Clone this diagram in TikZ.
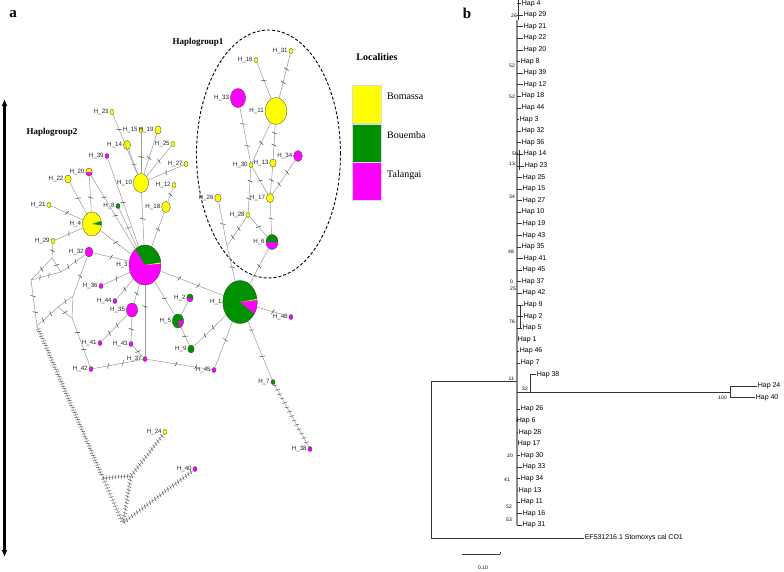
\documentclass[tikz,border=0pt]{standalone}
\usepackage{fontspec}
\setmainfont{Liberation Serif}
\setsansfont{Liberation Sans}
\usetikzlibrary{positioning,shapes.geometric,decorations.markings,arrows.meta}

\definecolor{bomcol}{RGB}{255,255,0}
\definecolor{boucol}{RGB}{0,145,0}
\definecolor{talcol}{RGB}{255,0,255}

% pie slice inside a haplotype node
\newcommand\slice[3]{\fill[#1] (path picture bounding box.center) -- ++(#2:40pt) arc[start angle=#2,end angle=#3,radius=40pt] -- cycle;}
% haplotype: [slices]{number}{position}{height}{colour}
\newcommand\haplo[5][]{%
  \node[hap=#4,fill=#5,path picture={#1}] (h#2) at (#3) {};
  \node[hlab,left=0.6pt of h#2] (l#2) {H\_#2};}

\tikzset{
  hap/.style={ellipse,draw=black!75,line width=0.3pt,inner sep=0pt,
    minimum height=#1,minimum width=0.8*#1},
  hlab/.style={font=\sffamily\fontsize{6.2}{7}\selectfont,inner sep=0.4pt,text=black!85},
  link/.style={draw=black!40,line width=0.5pt},
  mut/.style={postaction={decorate,decoration={markings,mark=at position #1 with
    {\draw[black!80,line width=0.45pt] (-0.9pt,-2.5pt) -- (0.9pt,2.5pt);}}}},
  mut/.default=0.5,
  muts/.style={postaction={decorate,decoration={markings,
    mark=between positions 0.02 and 0.98 step #1 with
    {\draw[black!75,line width=0.4pt] (-0.6pt,-2.2pt) -- (0.6pt,2.2pt);}}}},
  legbox/.style={draw=black!15,line width=0.3pt,minimum width=29pt,minimum height=38pt,inner sep=0pt},
  leglab/.style={font=\fontsize{10}{12}\selectfont,anchor=west,inner sep=0pt},
  tlab/.style={font=\sffamily\fontsize{7}{8}\selectfont,anchor=west,inner sep=0.6pt},
  bs/.style={font=\sffamily\fontsize{5}{6}\selectfont,inner sep=0pt},
  br/.style={draw=black!80,line width=0.5pt},
  spine/.style={draw=black!45,line width=1.3pt},
}

\begin{document}
\begin{tikzpicture}[x=1pt,y=-1pt]
\useasboundingbox (0,0) rectangle (784,571);
\fill[white] (0,0) rectangle (784,571);

% panel a
\node[font=\bfseries\fontsize{15}{15}\selectfont] (pa) at (13,14) {a};
\node[font=\bfseries\fontsize{9}{10}\selectfont] (hg1lab) at (198,42) {Haplogroup1};
\node[font=\bfseries\fontsize{9}{10}\selectfont] (hg2lab) at (52,132) {Haplogroup2};
\coordinate (gtop) at (4.5,99);
\coordinate (gbot) at (4.5,557);
\draw[line width=2.5pt,{Latex[length=7pt,width=6pt]}-{Latex[length=7pt,width=6pt]}] (gtop) -- (gbot);
\node[draw,ellipse,dashed,line width=0.9pt,dash pattern=on 3pt off 2pt,
  minimum width=144pt,minimum height=248pt] (hg1) at (268.5,154) {};

% legend
\node[font=\bfseries\fontsize{10}{12}\selectfont] (loc) at (377,57) {Localities};
\node[legbox,fill=bomcol] (lbom) at (366.5,104.5) {};
\node[legbox,fill=boucol,below=0pt of lbom] (lbou) {};
\node[legbox,fill=talcol,below=0pt of lbou] (ltal) {};
\node[leglab] (tbom) at (387,96) {Bomassa};
\node[leglab] (tbou) at (387,135) {Bouemba};
\node[leglab] (ttal) at (387,175) {Talangai};

% haplotypes
\haplo{23}{112,112}{5pt}{bomcol}
\haplo{15}{141,130}{5pt}{bomcol}
\haplo{19}{158,130}{8pt}{bomcol}
\haplo{14}{127,145}{9pt}{bomcol}
\haplo{25}{173,144}{5pt}{bomcol}
\haplo{39}{107,156}{5pt}{talcol}
\haplo[\slice{bomcol}{0}{180}]{20}{89,172}{8pt}{talcol}
\haplo{22}{68,179}{8pt}{bomcol}
\haplo{27}{186,164}{5pt}{bomcol}
\haplo{10}{141,183}{19pt}{bomcol}
\haplo{12}{174,185}{5pt}{bomcol}
\haplo{8}{118,206}{5pt}{boucol}
\haplo{18}{166,207}{11pt}{bomcol}
\haplo{21}{49,205}{5pt}{bomcol}
\haplo[\slice{boucol}{-8}{18}]{4}{92,224}{24pt}{bomcol}
\haplo{29}{53,241}{5pt}{bomcol}
\haplo{32}{89,252}{10pt}{talcol}
\haplo[\slice{boucol}{9}{121}\slice{bomcol}{5}{9}]{3}{145,265}{40pt}{talcol}
\haplo{36}{101,286}{5pt}{talcol}
\haplo{44}{115,301}{5pt}{talcol}
\haplo{35}{132,310}{14pt}{talcol}
\haplo[\slice{boucol}{0}{180}]{2}{190,298}{8pt}{talcol}
\haplo[\slice{talcol}{-75}{5}]{5}{178,321}{14pt}{boucol}
\haplo{9}{191,349}{8pt}{boucol}
\haplo{41}{100,343}{5pt}{talcol}
\haplo{43}{131,344}{5pt}{talcol}
\haplo{37}{145,359}{5pt}{talcol}
\haplo{42}{91,369}{5pt}{talcol}
\haplo[\slice{talcol}{-39}{7}\slice{bomcol}{7}{10}]{1}{240,302}{43pt}{boucol}
\haplo{48}{291,317}{5pt}{talcol}
\haplo{45}{214,370}{5pt}{talcol}
\haplo{7}{273,382}{5pt}{boucol}
\haplo{24}{165,432}{5pt}{bomcol}
\haplo{40}{195,469}{5pt}{talcol}
\haplo{38}{310,449}{5pt}{talcol}
\haplo{16}{256,60}{5pt}{bomcol}
\haplo{31}{291,51}{5pt}{bomcol}
\haplo{33}{238,98}{19pt}{talcol}
\haplo{11}{276,111}{27pt}{bomcol}
\haplo{30}{251,165}{5pt}{bomcol}
\haplo{13}{273,163}{8pt}{bomcol}
\haplo{34}{298,156}{11pt}{talcol}
\haplo{26}{218,198}{8pt}{bomcol}
\haplo{17}{270,198}{9pt}{bomcol}
\haplo{28}{248,215}{5pt}{bomcol}
\haplo[\slice{boucol}{0}{180}]{6}{272,242}{15pt}{talcol}

% median vectors
\coordinate (j1) at (227,246);
\coordinate (w1) at (52,258);
\coordinate (w2) at (31,280);
\coordinate (w3) at (61,272);
\coordinate (w4) at (37,326);
\coordinate (w5) at (58,307);
\coordinate (w6) at (73,296);
\coordinate (w7) at (72,318);
\coordinate (w8) at (103,478);
\coordinate (w9) at (131,476);
\coordinate (w10) at (123,523);

% links, haplogroup2
\draw[link,mut=0.25] (h23) -- (h10);
\draw[link,mut=0.6] (h15) -- (h10);
\draw[link,mut=0.6] (h19) -- (h10);
\draw[link,mut=0.6] (h14) -- (h10);
\draw[link,mut] (h25) -- (h10);
\draw[link,mut] (h27) -- (h10);
\draw[link,mut] (h12) -- (h18);
\draw[link,mut] (h18) -- (h3);
\draw[link,mut] (h10) -- (h3);
\draw[link,mut] (h8) -- (h3);
\draw[link,mut] (h39) -- (h3);
\draw[link,mut=0.3,mut=0.55] (h20) -- (h3);
\draw[link,mut=0.6] (h20) -- (h4);
\draw[link,mut] (h22) -- (h4);
\draw[link,mut] (h21) -- (h4);
\draw[link,mut] (h29) -- (h4);
\draw[link,mut] (h4) -- (h3);
\draw[link,mut] (h32) -- (h3);
\draw[link,mut] (h36) -- (h3);
\draw[link,mut] (h44) -- (h3);
\draw[link,mut] (h35) -- (h3);
\draw[link,mut=0.3] (h3) -- (h37);
\draw[link,mut] (h3) -- (h5);
\draw[link,mut=0.3,mut=0.6] (h3) -- (h1);
\draw[link] (h2) -- (h5);
\draw[link,mut] (h5) -- (h9);
\draw[link,mut=0.35,mut=0.6] (h9) -- (h1);
\draw[link,mut=0.6] (h45) -- (h1);
\draw[link,mut=0.45,mut=0.75] (h37) -- (h45);
\draw[link,mut=0.4,mut=0.7] (h37) -- (h42);
\draw[link,mut] (h43) -- (h37);
\draw[link,mut] (h35) -- (h43);
\draw[link,mut=0.3,mut=0.6] (h41) -- (h35);
\draw[link,mut] (h1) -- (h48);
\draw[link,mut=0.15,mut=0.6] (h1) -- (h7);
\draw[link,muts=5pt] (h7) -- (h38);
\draw[link,mut] (h29) -- (w1);
\draw[link,mut] (w1) -- (w2);
\draw[link,mut] (w1) -- (w3);
\draw[link,mut=0.3,mut=0.6] (w2) -- (w3);
\draw[link,mut=0.3,mut=0.6] (w3) -- (h32);
\draw[link,mut=0.35,mut=0.7] (w2) -- (w4);
\draw[link,mut=0.3,mut=0.65] (w4) -- (w5);
\draw[link,mut] (w5) -- (w6);
\draw[link,mut] (w6) -- (h32);
\draw[link,mut] (w5) -- (w7);
\draw[link] (w6) -- (w7);
\draw[link,mut=0.3,mut=0.65] (w7) -- (h42);
\draw[link,muts=2.6pt] (w4) -- (w8);
\draw[link,muts=3pt] (w8) -- (w9);
\draw[link,muts=3.3pt] (w9) -- (h24);
\draw[link,muts=3.3pt] (w8) -- (w10);
\draw[link,muts=3.3pt] (w9) -- (w10);
\draw[link,muts=3.2pt] (w10) -- (h40);

% links, haplogroup1
\draw[link,mut] (h6) -- (h1);
\draw[link,mut] (h26) -- (j1);
\draw[link,mut=0.6] (j1) -- (h1);
\draw[link,mut=0.4,mut=0.7] (h28) -- (j1);
\draw[link,mut] (h28) -- (h6);
\draw[link,mut=0.3,mut=0.7] (h30) -- (h28);
\draw[link,mut=0.3,mut=0.7] (h33) -- (h30);
\draw[link,mut] (h30) -- (h11);
\draw[link,mut] (h30) -- (h17);
\draw[link,mut=0.4,mut=0.75] (h13) -- (h11);
\draw[link,mut] (h13) -- (h17);
\draw[link,mut] (h17) -- (h6);
\draw[link,mut=0.35,mut=0.7] (h34) -- (h17);
\draw[link,mut] (h16) -- (h11);
\draw[link,mut=0.35,mut=0.65] (h31) -- (h11);

% panel b
\node[font=\bfseries\fontsize{15}{15}\selectfont] (pb) at (467,13) {b};
\draw[spine] (517,20) -- (517,525);
\draw[br] (518.5,0) -- (518.5,20);
\draw[br] (519.5,150) -- (519.5,170);
\draw[br] (520,305) -- (520,328);
\foreach \lab/\r/\x in {4/1/521,29/2/523,21/3/523,22/4/523,20/5/523,8/6/520,39/7/523,
  12/8/523,18/9/521,44/10/521,3/11/519,32/12/521,36/13/521,14/14/523,23/15/524,
  25/16/522,15/17/522,27/18/522,10/19/521,19/20/522,43/21/522,35/22/521,41/23/523,
  45/24/522,37/25/521,42/26/522,9/27/523,2/28/523,5/29/522,1/30/517,46/31/519,
  7/32/520,26/36/520,6/37/516,28/38/518,17/39/517,30/40/520,33/41/522,34/42/520,
  13/43/518,11/44/520,16/45/522,31/46/522}{
  \pgfmathsetmacro\ty{3.5+(\r-1)*11.59}
  \node[tlab] (t\lab) at (\x,\ty) {Hap \lab};
  \draw[br] (517,\ty) -- (t\lab.west);
}
\node[tlab] (t38) at (536,374.4) {Hap 38};
\node[tlab] (t24) at (757,386) {Hap 24};
\node[tlab] (t40) at (755,397.6) {Hap 40};
\coordinate (n38) at (530,392);
\coordinate (n24) at (730,392);
\draw[br] (517,392) -- (n38) -- (n38 |- t38) -- (t38.west);
\draw[br] (n38) -- (n24);
\draw[br] (t24.west) -- (n24 |- t24) -- (n24 |- t40) -- (t40.west);
\coordinate (root) at (431,381);
\node[tlab] (tef) at (584,538) {EF531216.1 Stomoxys cal CO1};
\draw[br] (517,381) -- (root) -- (root |- tef) -- (tef.west);
\foreach \v/\bx/\by [count=\i] in {26/517/16,52/515/66,52/515/97,58/518/154,13/515/164,
  34/515/197,48/514/252,0/513/282,25/516/289,76/515/322,11/514/379,32/528/389,
  100/727/398,20/513/456,41/510/480,52/512/507,53/512/520}
  \node[bs,anchor=east] (b\i) at (\bx,\by) {\v};
\coordinate (sc0) at (462,554);
\coordinate (sc1) at (500,554);
\draw[br] (sc0) -- (sc1);
\draw[br] (sc1) -- ++(0,-2);
\node[bs] (sclab) at (483,568) {0.10};
\end{tikzpicture}
\end{document}
